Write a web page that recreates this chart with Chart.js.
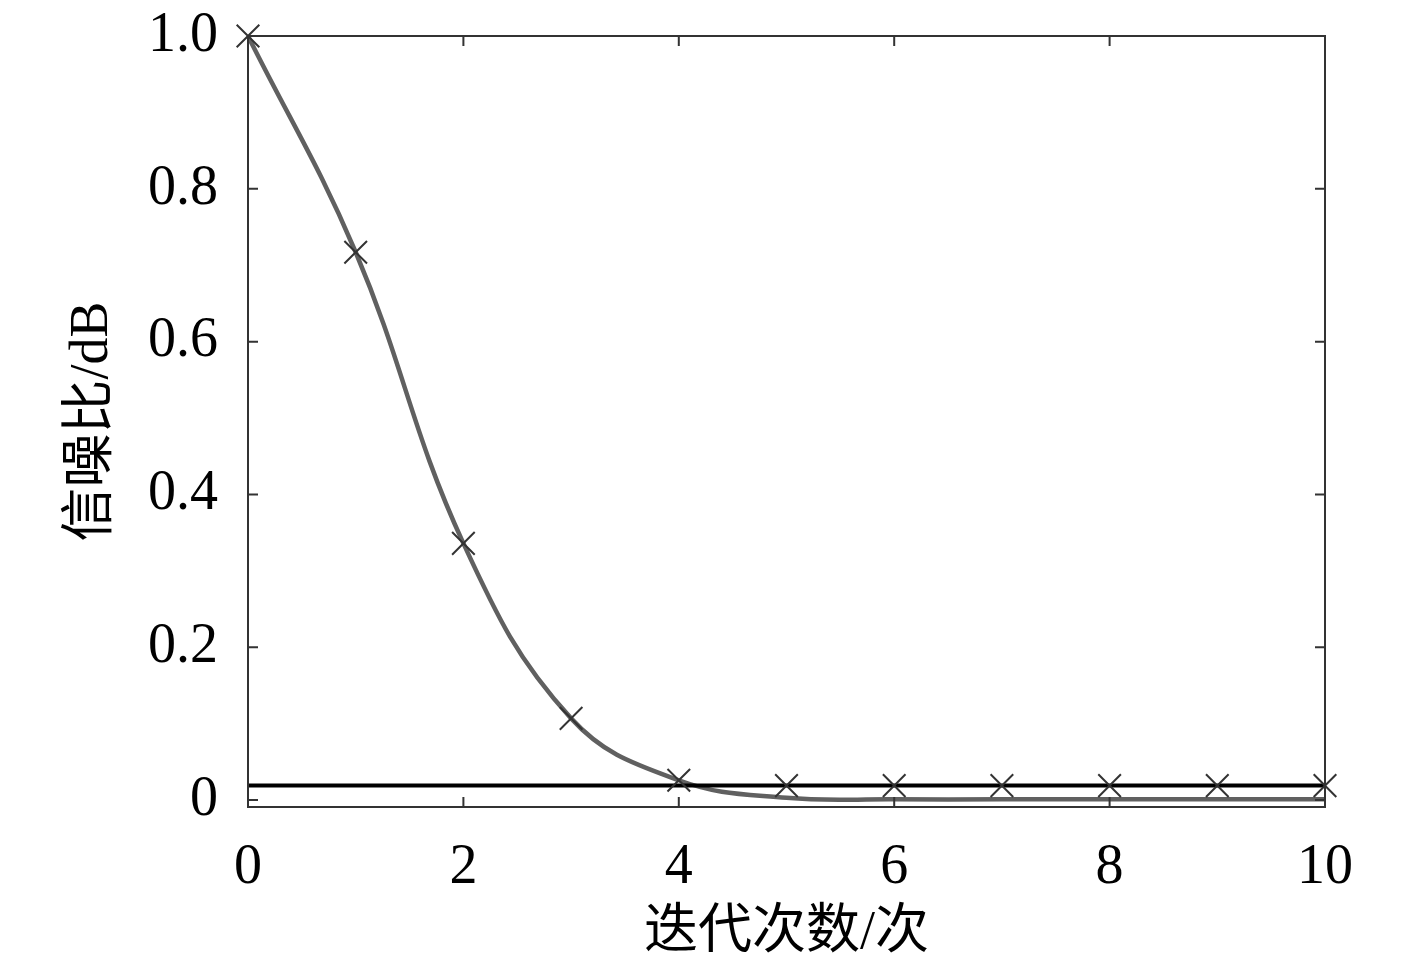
<!DOCTYPE html>
<html>
<head>
<meta charset="utf-8">
<script src="https://cdn.jsdelivr.net/npm/chart.js@4"></script>
<style>
  html, body { margin: 0; padding: 0; background: #fff; }
  #wrap { width: 1417px; height: 976px; }
</style>
</head>
<body>
<div id="wrap"><canvas id="snrChart"></canvas></div>
<script>
// values
const iterations = [0, 1, 2, 3, 4, 5, 6, 7, 8, 9, 10];
const curveValues = [1.0, 0.717, 0.336, 0.107, 0.026, 0.003, 0.001, 0.001, 0.001, 0.001, 0.001];
const markerValues = [1.0, 0.717, 0.336, 0.107, 0.026, 0.019, 0.019, 0.019, 0.019, 0.019, 0.019];
const thresholdX = [0, 10];
const thresholdY = [0.019, 0.019];
const xTicks = [0, 2, 4, 6, 8, 10];
const yTicks = [0, 0.2, 0.4, 0.6, 0.8, 1.0];

const serif = "'Liberation Serif', 'Noto Sans CJK SC', serif";

function toPoints(xs, ys) {
  return xs.map((x, i) => ({ x: x, y: ys[i] }));
}

// frame + inward tick marks on all four sides
const frame = {
  id: "frame",
  afterDatasetsDraw(chart) {
    const ctx = chart.ctx;
    const a = chart.chartArea;
    const xs = chart.scales.x;
    const ys = chart.scales.y;
    ctx.save();
    ctx.strokeStyle = "#333";
    ctx.lineWidth = 2;
    ctx.strokeRect(a.left, a.top, a.right - a.left, a.bottom - a.top);
    ctx.beginPath();
    xTicks.forEach((v) => {
      const px = xs.getPixelForValue(v);
      ctx.moveTo(px, a.bottom);
      ctx.lineTo(px, a.bottom - 10);
      ctx.moveTo(px, a.top);
      ctx.lineTo(px, a.top + 10);
    });
    yTicks.forEach((v) => {
      const py = ys.getPixelForValue(v);
      ctx.moveTo(a.left, py);
      ctx.lineTo(a.left + 10, py);
      ctx.moveTo(a.right, py);
      ctx.lineTo(a.right - 10, py);
    });
    ctx.stroke();
    ctx.restore();
  },
};

new Chart(document.getElementById("snrChart"), {
  type: "scatter",
  data: {
    datasets: [
      {
        label: "curve",
        data: toPoints(iterations, curveValues),
        showLine: true,
        borderColor: "#606060",
        borderWidth: 4.5,
        pointRadius: 0,
        tension: 0.4,
        clip: false,
        order: 3,
      },
      {
        label: "threshold",
        data: toPoints(thresholdX, thresholdY),
        showLine: true,
        borderColor: "#000",
        borderWidth: 4,
        pointRadius: 0,
        clip: false,
        order: 2,
      },
      {
        label: "markers",
        data: toPoints(iterations, markerValues),
        showLine: false,
        pointStyle: "crossRot",
        pointRadius: 16,
        pointBorderWidth: 2,
        borderColor: "#333",
        clip: false,
        order: 1,
      },
    ],
  },
  options: {
    responsive: true,
    maintainAspectRatio: false,
    animation: false,
    layout: { padding: { left: 0, top: 36, right: 92, bottom: 0 } },
    plugins: {
      legend: { display: false },
      tooltip: { enabled: false },
    },
    scales: {
      x: {
        type: "linear",
        min: 0,
        max: 10,
        afterBuildTicks: (s) => { s.ticks = xTicks.map((v) => ({ value: v })); },
        afterFit: (s) => {
          s.height = 169;
          s.paddingLeft = 0;
          s.paddingRight = 0;
        },
        grid: { display: false, drawTicks: false },
        border: { display: false },
        ticks: {
          color: "#000",
          padding: 28,
          font: { family: serif, size: 56 },
          maxRotation: 0,
        },
        title: {
          display: true,
          text: "迭代次数/次",
          color: "#000",
          font: { family: serif, size: 54 },
          padding: { top: 0, bottom: 10 },
        },
      },
      y: {
        type: "linear",
        min: -0.009,
        max: 1.0,
        afterBuildTicks: (s) => { s.ticks = yTicks.map((v) => ({ value: v })); },
        afterFit: (s) => {
          s.width = 248;
          s.paddingTop = 0;
          s.paddingBottom = 0;
        },
        grid: { display: false, drawTicks: false },
        border: { display: false },
        ticks: {
          color: "#000",
          padding: 30,
          font: { family: serif, size: 56 },
          callback: (v) => (v === 0 ? "0" : v.toFixed(1)),
        },
        title: {
          display: true,
          text: "信噪比/dB",
          color: "#000",
          font: { family: serif, size: 54 },
          padding: { top: 60, bottom: 0 },
        },
      },
    },
  },
  plugins: [frame],
});
</script>
</body>
</html>
